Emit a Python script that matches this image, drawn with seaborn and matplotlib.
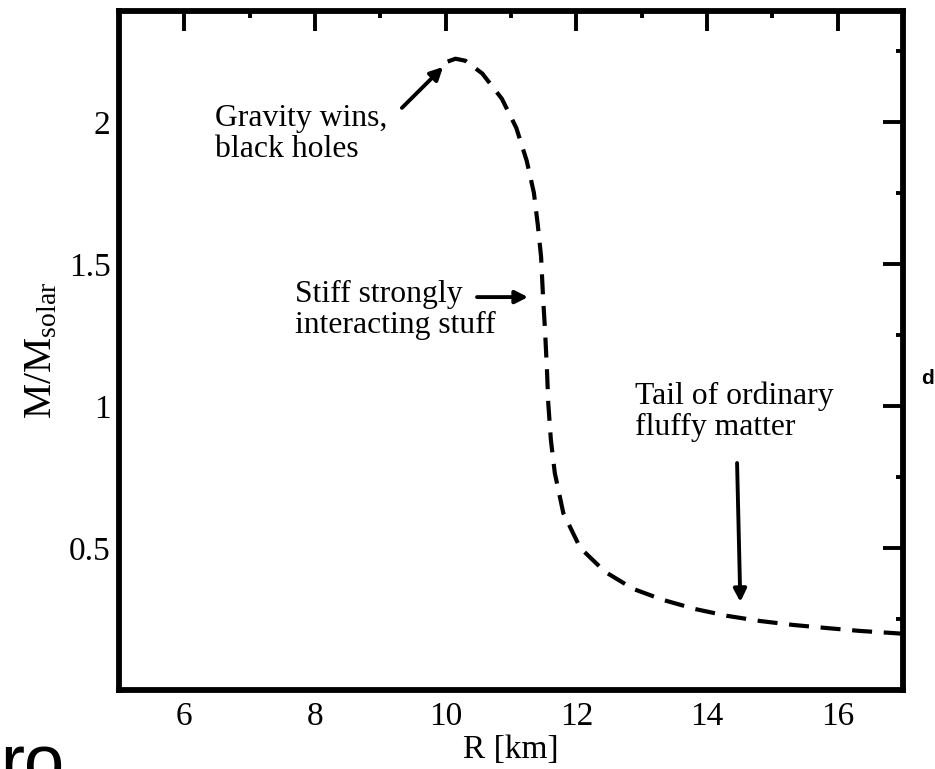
import matplotlib
matplotlib.use("Agg")
import matplotlib.pyplot as plt
from matplotlib.ticker import FixedLocator, FuncFormatter
import seaborn as sns
import pandas as pd

# Mass-radius relation of a neutron star (dashed curve)
radius_km = [10.03, 10.15, 10.30, 10.56, 10.86, 11.08, 11.24, 11.35, 11.41,
             11.46, 11.49, 11.52, 11.55, 11.57, 11.61, 11.67, 11.80, 12.06,
             12.44, 12.87, 13.33, 13.82, 14.31, 14.81, 15.32, 15.84, 16.34,
             16.88, 17.00]
mass_solar = [2.212, 2.222, 2.215, 2.170, 2.081, 1.979, 1.863, 1.750, 1.637,
              1.525, 1.384, 1.268, 1.127, 1.010, 0.880, 0.764, 0.623, 0.500,
              0.416, 0.356, 0.317, 0.285, 0.261, 0.243, 0.229, 0.218, 0.208,
              0.200, 0.198]

x_ticks = [6, 8, 10, 12, 14, 16]
y_ticks = [0.5, 1, 1.5, 2]

notes = ["Gravity wins,\nblack holes",
         "Stiff strongly\ninteracting stuff",
         "Tail of ordinary\nfluffy matter"]
# baseline of the last line of each note
note_text_xy = [(6.47, 1.876), (7.69, 1.257), (12.90, 0.898)]
note_tail_xy = [(9.33, 2.049), (10.48, 1.383), (14.46, 0.799)]
note_head_xy = [(9.96, 2.193), (11.26, 1.383), (14.51, 0.310)]

sns.set_style("white")
plt.rcParams["font.family"] = ["Liberation Serif", "DejaVu Serif"]
plt.rcParams["mathtext.fontset"] = "custom"
plt.rcParams["mathtext.rm"] = "Liberation Serif"
plt.rcParams["mathtext.it"] = "Liberation Serif:italic"
for key in ["text.color", "axes.labelcolor", "xtick.color", "ytick.color",
            "axes.edgecolor"]:
    plt.rcParams[key] = "black"

df = pd.DataFrame({"R": radius_km, "M": mass_solar})

fig = plt.figure(figsize=(9.35, 7.69), dpi=100)
ax = fig.add_axes([0.1273, 0.1027, 0.8385, 0.883])

sns.lineplot(data=df, x="R", y="M", sort=False, color="black", lw=3,
             linestyle=(0, (4.8, 2.8)), ax=ax)

ax.set_xlim(5, 17)
ax.set_ylim(0, 2.39)

ax.xaxis.set_major_locator(FixedLocator(x_ticks))
ax.xaxis.set_minor_locator(FixedLocator([7, 9, 11, 13, 15]))
ax.yaxis.set_major_locator(FixedLocator(y_ticks))
ax.yaxis.set_minor_locator(FixedLocator([0.25, 0.75, 1.25, 1.75, 2.25]))
ax.yaxis.set_major_formatter(FuncFormatter(lambda v, p: "%g" % v))
ax.xaxis.set_major_formatter(FuncFormatter(lambda v, p: "%g" % v))

for s in ax.spines.values():
    s.set_visible(True)
    s.set_linewidth(4.2)
    s.set_color("black")

ax.tick_params(which="both", direction="in", top=True, right=True,
               colors="black", width=2.8)
ax.tick_params(which="major", length=14.5)
ax.tick_params(which="minor", length=5)
ax.tick_params(axis="x", which="major", labelsize=24, pad=8)
ax.tick_params(axis="y", which="major", labelsize=24, pad=6)

ax.set_xlabel("R [km]", fontsize=24, labelpad=2)
ax.set_ylabel(r"M/M$_{\rm solar}$", fontsize=28.5, labelpad=6)

for txt, txy, t0, t1 in zip(notes, note_text_xy, note_tail_xy, note_head_xy):
    ax.text(txy[0], txy[1], txt, fontsize=22.8, ha="left", va="baseline",
            linespacing=1.08)
    ax.annotate("", xy=t1, xytext=t0,
                arrowprops=dict(arrowstyle="-|>,head_length=0.75,head_width=0.38",
                                lw=2.8, color="black", shrinkA=0, shrinkB=0))

# Fragments of the surrounding slide
fig.text(0.0, 1 - 733 / 769, "ro", fontsize=52, family="Liberation Sans",
         ha="left", va="top")
fig.text(921 / 935, 1 - 384 / 769, "d", fontsize=15, family="Liberation Sans",
         fontweight="bold", ha="left", va="baseline")

fig.savefig("out.png", dpi=100)
